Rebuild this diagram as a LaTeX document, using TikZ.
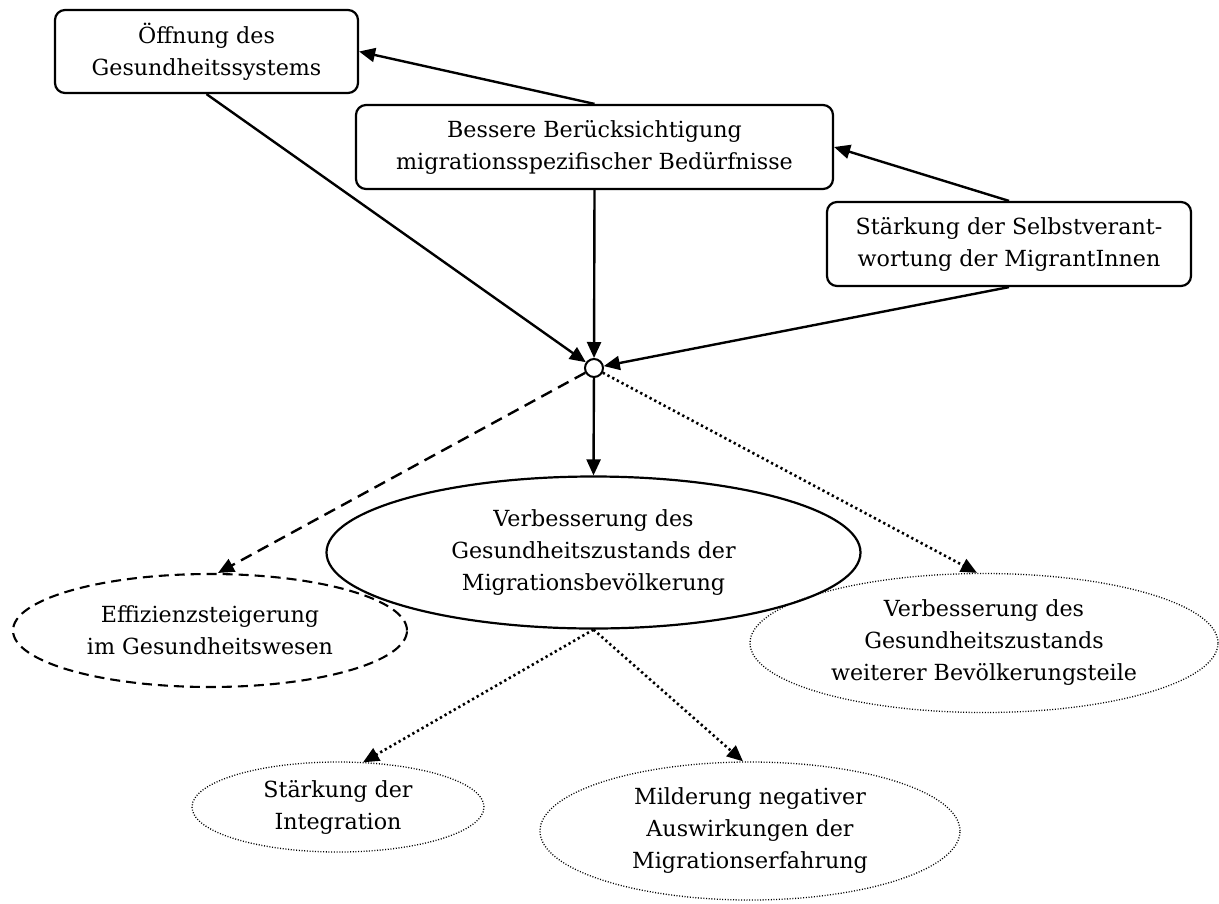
\documentclass[tikz,border=0pt]{standalone}
\usepackage{fontspec}
\setmainfont{DejaVu Serif}
\usetikzlibrary{shapes.geometric,arrows.meta}
\begin{document}
\begin{tikzpicture}[x=1pt,y=-1pt,
  every node/.style={font=\fontsize{22.2}{32}\selectfont, align=center, inner sep=0pt},
  box/.style={draw, line width=2.2pt, rounded corners=10pt},
  goal/.style={draw, ellipse},
  solidgoal/.style={goal, line width=2.2pt},
  dashgoal/.style={goal, line width=2.1pt, dash pattern=on 10pt off 6pt},
  dotgoal/.style={goal, line width=1.3pt, dash pattern=on 1pt off 1.7pt},
  tip/.style={-{Triangle[length=16pt,width=14pt]}},
  link/.style={tip, line width=2.4pt},
  dashlink/.style={tip, line width=2.4pt, dash pattern=on 12pt off 7pt},
  dotlink/.style={tip, line width=2.6pt, dash pattern=on 2.3pt off 3pt},
]
\useasboundingbox (0,0) rectangle (1219,903);

% measures and causes
\node[box, minimum width=303pt, minimum height=83pt] (b1) at (206.5,51.5)
  {Öffnung des\\Gesundheitssystems};
\node[box, minimum width=477pt, minimum height=84pt] (b2) at (594.5,147)
  {Bessere Berücksichtigung\\migrationsspezifischer Bedürfnisse};
\node[box, minimum width=364pt, minimum height=84pt] (b3) at (1009,244)
  {Stärkung der Selbstverant-\\wortung der MigrantInnen};

% junction
\node[draw, circle, line width=2pt, minimum size=18pt, fill=white] (c) at (594,368) {};

% effects
\node[solidgoal, minimum width=534pt, minimum height=152pt] (main) at (593.5,552.5)
  {Verbesserung des\\Gesundheitszustands der\\Migrationsbevölkerung};
\node[dashgoal, minimum width=394pt, minimum height=113pt] (eff) at (210,630.5)
  {Effizienzsteigerung\\im Gesundheitswesen};
\node[dotgoal, minimum width=468pt, minimum height=139pt] (rest) at (984,643)
  {Verbesserung des\\Gesundheitszustands\\weiterer Bevölkerungsteile};
\node[dotgoal, minimum width=292pt, minimum height=90pt] (integ) at (338,807)
  {Stärkung der\\Integration};
\node[dotgoal, minimum width=420pt, minimum height=138pt] (mild) at (750,831)
  {Milderung negativer\\Auswirkungen der\\Migrationserfahrung};

% connectors
\draw[link] (b2.north) -- (b1.east);
\draw[link] (b3.north) -- (b2.east);
\draw[link] (b1.south) -- (c);
\draw[link] (b2.south) -- (c);
\draw[link] (b3.south) -- (c);
\draw[link] (c) -- (main.north);
\draw[dashlink] (c) -- ([xshift=8pt]eff.north);
\draw[dotlink] (c) -- ([xshift=-7pt]rest.north);
\draw[dotlink] (main.south) -- ([xshift=25pt,yshift=-1pt]integ.north);
\draw[dotlink] (main.south) -- ([xshift=-7pt]mild.north);
\end{tikzpicture}
\end{document}
